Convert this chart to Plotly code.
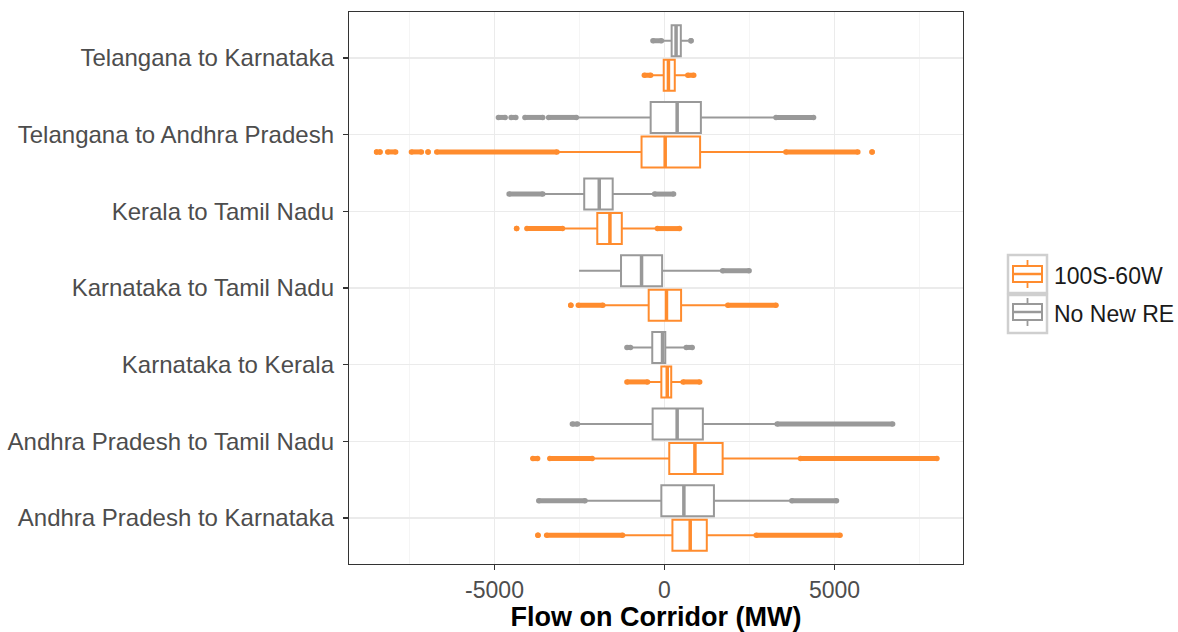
import plotly.graph_objects as go

# ---------------- data ----------------
categories = [
    "Andhra Pradesh to Karnataka",
    "Andhra Pradesh to Tamil Nadu",
    "Karnataka to Kerala",
    "Karnataka to Tamil Nadu",
    "Kerala to Tamil Nadu",
    "Telangana to Andhra Pradesh",
    "Telangana to Karnataka",
]
series_names = ["100S-60W", "No New RE"]

# 100S-60W
re_q1 = [233, 140, -93, -465, -1977, -675, -23]
re_median = [756, 895, 81, 58, -1605, 20, 116]
re_q3 = [1244, 1710, 198, 488, -1256, 1047, 302]
re_lower = [-1198, -2093, -465, -1779, -2942, -3117, -380]
re_upper = [2640, 3954, 488, 1803, -267, 3512, 650]
re_outlier_runs = [
    [(-3722, -3722), (-3466, -1233), (2698, 5164)],
    [(-3873, -3733), (-3373, -2128), (4001, 8013)],
    [(-1105, -500), (547, 1035)],
    [(-2756, -2756), (-2535, -1814), (1861, 3280)],
    [(-4350, -4350), (-4047, -3000), (-209, 442)],
    [(-8467, -8467), (-8370, -8370), (-8141, -7908), (-7443, -7152),
     (-6955, -6955), (-6699, -3163), (3570, 5687), (6106, 6106)],
    [(-593, -407), (686, 860)],
]

# No New RE
base_q1 = [-93, -349, -360, -1279, -2361, -407, 210]
base_median = [570, 372, -58, -675, -1919, 372, 340]
base_q3 = [1454, 1128, 23, -70, -1524, 1070, 480]
base_lower = [-2303, -2535, -950, -2512, -3524, -2535, -60]
base_upper = [3687, 3256, 605, 1651, -349, 3221, 700]
base_outlier_runs = [
    [(-3698, -2338), (3745, 5059)],
    [(-2710, -2559), (3315, 6710)],
    [(-1105, -1000), (640, 814)],
    [(1710, 2489)],
    [(-4571, -3582), (-291, 267)],
    [(-4885, -4687), (-4512, -4373), (-4105, -3582), (-3408, -2593), (3280, 4384)],
    [(-340, -90), (779, 779)],
]

x_tick_vals = [-5000, 0, 5000]
x_tick_text = ["-5000", "0", "5000"]

# ---------------- styling ----------------
ORANGE = "#FF8C2E"
GREY = "#999999"
FONT = "Liberation Sans, Arial, sans-serif"

series = [
    (series_names[0], ORANGE, re_q1, re_median, re_q3, re_lower, re_upper, re_outlier_runs),
    (series_names[1], GREY, base_q1, base_median, base_q3, base_lower, base_upper, base_outlier_runs),
]

fig = go.Figure()
for name, color, q1, med, q3, lo, up, _ in series:
    fig.add_trace(go.Box(
        y=categories, q1=q1, median=med, q3=q3, lowerfence=lo, upperfence=up,
        orientation="h", name=name, legendgroup=name, offsetgroup=name,
        line=dict(color=color, width=2), fillcolor="white",
        whiskerwidth=0, boxpoints=False, showlegend=False, hoverinfo="skip",
    ))

for name, color, q1, med, q3, lo, up, runs in series:
    xs, ys = [], []
    for cat, cat_runs in zip(categories, runs):
        for a, b in cat_runs:
            xs += [a, b, None]
            ys += [cat, cat, None]
    fig.add_trace(go.Scatter(
        x=xs, y=ys, mode="lines+markers", orientation="h",
        offsetgroup=name, legendgroup=name, showlegend=False,
        line=dict(color=color, width=5), marker=dict(color=color, size=5.5),
        hoverinfo="skip", connectgaps=False,
    ))
    # thicker median bar (ggplot's fattened median line)
    fig.add_trace(go.Scatter(
        x=med, y=categories, mode="markers", orientation="h",
        offsetgroup=name, showlegend=False, hoverinfo="skip",
        marker=dict(symbol="line-ns", size=21.5, line=dict(color=color, width=3.5)),
    ))

PAGE_W, PAGE_H = 1178, 632
L, R, T, B = 349, 963, 12, 564  # plot area in screen pixels


def px(x):
    return (x - L) / (R - L)


def py(y):
    return (B - y) / (B - T)


# ---------------- hand-drawn legend (ggplot style keys) ----------------
shapes = []
key_centers = [274, 312]
key_tops = [254, 294]
for i, (name, color, *_r) in enumerate(series):
    top = key_tops[i]
    shapes.append(dict(type="rect", xref="paper", yref="paper",
                       x0=px(1008), x1=px(1047), y0=py(top + 39), y1=py(top + 1),
                       line=dict(color="#CFCFCF", width=2.5), fillcolor="white", layer="above"))
    cy = key_centers[i]
    shapes.append(dict(type="line", xref="paper", yref="paper",
                       x0=px(1027.5), x1=px(1027.5), y0=py(cy - 14), y1=py(cy + 14),
                       line=dict(color=color, width=1.8), layer="above"))
    shapes.append(dict(type="rect", xref="paper", yref="paper",
                       x0=px(1013), x1=px(1042), y0=py(cy + 8), y1=py(cy - 8),
                       line=dict(color=color, width=2), fillcolor="white", layer="above"))
    shapes.append(dict(type="line", xref="paper", yref="paper",
                       x0=px(1013), x1=px(1042), y0=py(cy), y1=py(cy),
                       line=dict(color=color, width=2.5), layer="above"))

annotations = []
for i, (name, *_r) in enumerate(series):
    annotations.append(dict(text=name, xref="paper", yref="paper",
                            x=px(1052), y=py(key_centers[i] + 2), xanchor="left", yanchor="middle",
                            showarrow=False, font=dict(size=23, color="#1a1a1a", family=FONT)))

fig.update_layout(
    width=PAGE_W, height=PAGE_H,
    margin=dict(l=L, r=PAGE_W - R, t=T, b=PAGE_H - B, autoexpand=False),
    paper_bgcolor="white", plot_bgcolor="white",
    boxmode="group", boxgap=0.1, boxgroupgap=0.1,
    scattermode="group", scattergap=0.1,
    font=dict(family=FONT, size=23, color="#4D4D4D"),
    showlegend=False,
    shapes=shapes, annotations=annotations,
    xaxis=dict(
        range=[-9280, 8780], tickvals=x_tick_vals, ticktext=x_tick_text,
        showgrid=True, gridcolor="#EBEBEB", gridwidth=1.3,
        minor=dict(dtick=2500, tick0=0, showgrid=True, gridcolor="#F2F2F2", gridwidth=0.8),
        zeroline=False, showline=True, mirror=True, linecolor="#333333", linewidth=1.2,
        ticks="outside", ticklen=5, tickcolor="#333333", tickwidth=1.2,
        tickfont=dict(size=23, color="#4D4D4D"),
        title=dict(text="<b>Flow on Corridor (MW)</b>", font=dict(size=27, color="black"), standoff=16),
    ),
    yaxis=dict(
        type="category", categoryorder="array", categoryarray=categories,
        range=[-0.6, 6.6],
        showgrid=True, gridcolor="#EBEBEB", gridwidth=1.3,
        zeroline=False, showline=True, mirror=True, linecolor="#333333", linewidth=1.2,
        ticks="outside", ticklen=5, tickcolor="#333333", tickwidth=1.2,
        ticklabelstandoff=4,
        tickfont=dict(size=24, color="#4D4D4D"),
    ),
)

fig.write_html(
    "out.html",
    config={"displayModeBar": False, "staticPlot": True},
    post_script="document.body.style.margin='0';document.body.style.overflow='hidden';",
)
